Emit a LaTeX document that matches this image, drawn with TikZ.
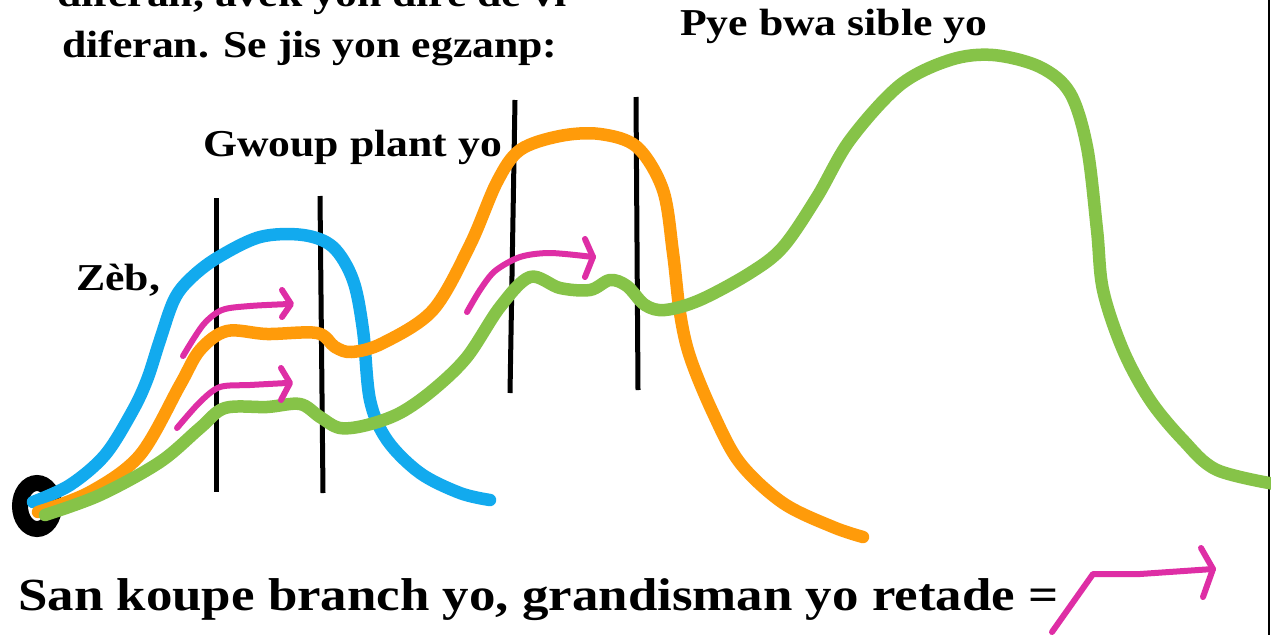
\documentclass[tikz,border=0pt]{standalone}
\usepackage{fontspec}
\setmainfont{Liberation Serif}[FakeStretch=1.15]
\definecolor{cblue}{RGB}{18,170,238}
\definecolor{corange}{RGB}{255,155,10}
\definecolor{cgreen}{RGB}{134,195,72}
\definecolor{cpink}{RGB}{222,46,165}
\tikzset{
  curve/.style={line width=12.5pt, line cap=round, line join=round},
  divider/.style={line width=5pt, black},
  growarrow/.style={line width=6pt, cpink, line cap=round, line join=round},
  lbl/.style={font=\bfseries\fontsize{38}{42}\selectfont, inner sep=0pt, anchor=west},
}
\begin{document}
\begin{tikzpicture}[x=1pt,y=-1pt]
\useasboundingbox (0,0) rectangle (1271,635);
\clip (0,0) rectangle (1271,635);
\fill[white] (0,0) rectangle (1271,635);
\draw[line width=2pt] (1269,0) -- (1269,635);

% texts
\node[lbl] (t1) at (57,-3) {diferan, avèk yon dire de vi};
\node[lbl] (t2) at (62,48) {diferan. Se jis yon egzanp:};
\node[lbl] (t3) at (680,26) {Pye bwa sible yo};
\node[lbl] (t4) at (203,147) {Gwoup plant yo};
\node[lbl] (t5) at (76,280) {Zèb,};
\node[lbl, font=\bfseries\fontsize{46}{50}\selectfont] (t6) at (18,600) {San koupe branch yo, grandisman yo retade =};

% ring
\draw[line width=16pt] (37,506) ellipse (17pt and 23pt);

% vertical dividers
\draw[divider] (216,198) -- (216,492);
\draw[divider] (320,196) -- (323,493);
\draw[divider] (515,100) -- (510,393);
\draw[divider] (636,97) -- (638,390);

% curves
\draw[curve, cblue] plot[smooth, tension=0.55] coordinates {
 (33,502) (70,485) (105,455) (132,412) (147,380) (160,340) (174,300) (190,279) (217,258) (260,237)
 (303,235) (333,247) (353,280) (363,330) (370,400) (387,440) (420,473) (460,493) (490,500)};
\draw[curve, corange] plot[smooth, tension=0.55] coordinates {
 (38,512) (90,492) (140,455) (180,385) (200,350) (227,331) (267,334) (317,333)
 (335,347) (352,352) (383,343) (433,310) (470,245) (497,182) (520,150) (560,136) (600,134)
 (637,147) (663,190) (673,253) (680,313) (690,357) (713,413) (740,463) (783,503) (833,527) (863,537)};
\draw[curve, cgreen] plot[smooth, tension=0.55] coordinates {
 (45,515) (100,495) (160,462) (200,428) (225,408) (267,407) (300,404) (320,417)
 (340,428) (367,425) (400,413) (433,390) (467,357) (500,307) (530,277) (560,288) (590,290)
 (610,280) (627,286) (645,305) (665,310) (700,300) (750,273) (783,247) (817,197) (850,140)
 (900,85) (950,60) (993,55) (1040,67) (1070,93) (1087,147) (1097,230) (1103,290) (1123,350)
 (1150,400) (1183,440) (1217,470) (1280,485)};

% pink arrows
\draw[growarrow] plot[smooth, tension=0.5] coordinates {(183,356) (203,325) (222,310) (250,306) (289,304)};
\draw[growarrow] (282,290) -- (291,304) -- (282,317);
\draw[growarrow] plot[smooth, tension=0.5] coordinates {(177,428) (200,402) (220,387) (250,385) (287,383)};
\draw[growarrow] (281,368) -- (290,383) -- (281,400);
\draw[growarrow] plot[smooth, tension=0.5] coordinates {(467,312) (480,290) (495,271) (520,257) (550,253) (593,257)};
\draw[growarrow] (585,239) -- (593,257) -- (585,277);
\draw[growarrow] (1052,632) -- (1093,574) -- (1140,574) -- (1213,569);
\draw[growarrow] (1201,548) -- (1213,569) -- (1203,597);
\end{tikzpicture}
\end{document}
